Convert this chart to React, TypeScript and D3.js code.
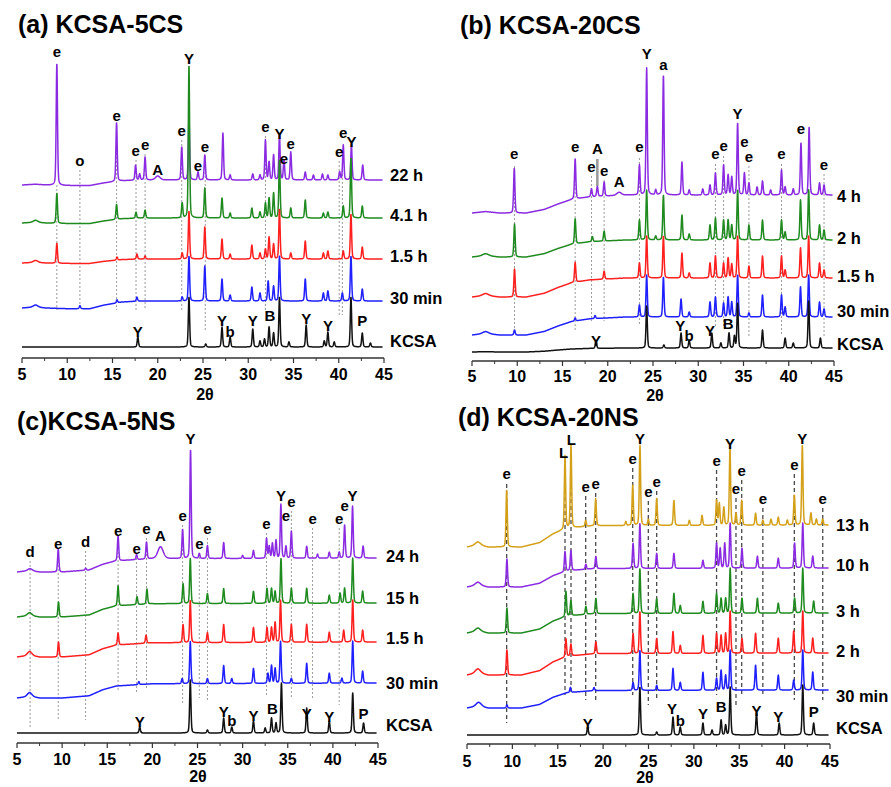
import React from 'react';
import * as d3 from 'd3';

type Pk = [number, number, number?];
type Lbl = [string, number, number];
type Dash = [number, number, number];

const majorTicks = [5, 10, 15, 20, 25, 30, 35, 40, 45];
const minorTicks = [7.5, 12.5, 17.5, 22.5, 27.5, 32.5, 37.5, 42.5];

// ---------- (a) KCSA-5CS ----------
const namesA = ['22 h', '4.1 h', '1.5 h', '30 min', 'KCSA'];
const colorsA = ['#8a2be2', '#1f8a1f', '#ff1f1f', '#1f1fff', '#111111'];
const offsetsA = [170, 132, 91, 49, 3];
const humpsA = [5, 5, 4, 7, 0];
const nameLevelsA = [173, 133, 92, 50, 7];
const humpShapeA: [number, number][] = [[5, 1], [6.5, 0.85], [7.6, 1], [10, 1.1], [12.5, 1.1], [14, 0.6], [16, 0.15], [18, 0], [45, 0]];
const peaksA: Pk[][] = [
  [[8.85, 122], [15.45, 59], [17.55, 15], [18.0, 6], [18.6, 23], [20.0, 4, 0.3], [22.65, 33], [23.45, 60], [24.45, 8], [25.2, 25], [27.2, 47], [28.0, 5], [30.5, 6], [31.3, 5], [31.9, 40], [32.3, 18], [32.8, 25], [33.45, 45], [33.95, 20], [34.7, 28], [36.3, 8], [37.2, 5], [38.2, 6], [38.8, 5], [40.1, 8], [40.5, 35], [41.4, 35], [42.65, 15]],
  [[6.5, 2, 0.3], [8.85, 30], [15.45, 15], [17.6, 6], [18.6, 8], [22.7, 15], [23.45, 153], [25.2, 30], [27.1, 20], [28.0, 5], [30.4, 10], [31.3, 6], [31.9, 15], [32.3, 20], [32.8, 25], [33.45, 58], [34.7, 10], [36.3, 18], [38.3, 5], [38.8, 6], [40.5, 12], [41.35, 60], [42.6, 12]],
  [[6.5, 2, 0.3], [8.85, 20], [15.5, 3], [17.7, 5], [18.6, 3], [22.7, 6], [23.45, 48], [25.2, 32], [27.1, 20], [28.0, 5], [30.4, 14], [31.3, 6], [31.9, 10], [32.3, 22], [32.8, 15], [33.45, 50], [34.7, 6], [36.3, 18], [38.3, 6], [38.8, 8], [40.5, 8], [41.35, 45], [42.6, 12]],
  [[6.5, 2, 0.3], [11.4, 3], [15.5, 3], [17.7, 4], [22.7, 4], [23.45, 45], [25.2, 35], [27.1, 22], [28.0, 6], [30.4, 14], [31.3, 8], [32.2, 20], [32.8, 15], [33.45, 45], [36.3, 22], [38.3, 8], [38.8, 10], [40.4, 8], [41.35, 45], [42.6, 12]],
  [[17.8, 10], [23.45, 50], [25.3, 3], [27.1, 20], [28.0, 10], [30.5, 18], [31.3, 6], [31.8, 8], [32.3, 20], [32.8, 14], [33.45, 50], [34.5, 5], [36.4, 22], [38.4, 6], [38.8, 15], [39.5, 5], [41.35, 50], [42.6, 14], [43.5, 4]],
];
const labelsA: Lbl[] = [
  ['e', 8.85, 297], ['o', 11.4, 188], ['e', 15.45, 233], ['e', 17.55, 198], ['e', 18.6, 204], ['A', 20.0, 179],
  ['e', 22.65, 218], ['Y', 23.45, 290], ['e', 24.45, 183], ['e', 25.2, 202], ['e', 31.9, 222], ['Y', 33.45, 215],
  ['e', 33.95, 190], ['e', 34.7, 205], ['e', 40.05, 197], ['e', 40.5, 216], ['Y', 41.4, 207],
  ['Y', 17.8, 17], ['Y', 27.1, 28], ['b', 28.0, 17], ['Y', 30.5, 28], ['B', 32.4, 33], ['Y', 36.4, 30], ['Y', 38.8, 23], ['P', 42.6, 28],
];
const dashesA: Dash[] = [
  [8.85, 165, 40], [11.4, 180, 40], [15.45, 225, 40], [17.6, 190, 40], [18.6, 196, 40], [22.65, 210, 40],
  [25.25, 194, 20], [31.9, 214, 40], [40.05, 189, 35], [40.4, 180, 35],
];

// ---------- (b) KCSA-20CS ----------
const namesB = ['4 h', '2 h', '1.5 h', '30 min', 'KCSA'];
const colorsB = ['#8a2be2', '#1f8a1f', '#ff1f1f', '#1f1fff', '#111111'];
const offsetsB = [161, 116, 78, 39, 8];
const humpsB = [18, 17, 19, 18, 4];
const nameLevelsB = [158, 116, 78, 43, 10];
const humpShapeB: [number, number][] = [[5, 1], [6.5, 0.92], [8, 1], [11, 1], [13, 0.8], [14.5, 0.5], [16, 0.25], [18, 0.1], [22, 0], [45, 0]];
const peaksB: Pk[][] = [
  [[9.67, 45], [16.4, 40], [18.2, 8], [18.85, 10], [19.6, 14], [21.25, 3, 0.3], [23.5, 30], [24.3, 127], [25.3, 5], [26.15, 120], [28.2, 33], [29.0, 5], [30.5, 6], [31.3, 10], [31.9, 22], [32.8, 30], [33.3, 20], [33.7, 18], [34.35, 72], [35.1, 22], [35.6, 12], [36.5, 8], [37.1, 14], [38.0, 5], [39.2, 25], [39.6, 8], [40.5, 6], [41.35, 52], [42.25, 68], [43.4, 12], [43.9, 10]],
  [[6.5, 2, 0.4], [9.7, 33], [16.4, 25], [18.3, 5], [19.6, 10], [23.5, 20], [24.3, 50], [25.3, 4], [26.15, 45], [28.2, 25], [29.0, 6], [31.3, 15], [31.9, 22], [32.8, 20], [33.3, 20], [33.7, 15], [34.35, 50], [35.6, 15], [37.1, 20], [39.2, 20], [39.6, 8], [41.3, 40], [42.2, 50], [43.4, 15], [43.9, 10]],
  [[6.5, 2, 0.4], [9.7, 28], [16.4, 20], [19.6, 8], [23.5, 15], [24.3, 42], [26.15, 42], [28.2, 25], [29.0, 5], [31.3, 15], [31.9, 22], [32.8, 15], [33.3, 20], [33.7, 14], [34.35, 42], [35.6, 12], [37.1, 22], [39.2, 22], [39.6, 8], [41.3, 30], [42.2, 42], [43.4, 15], [43.9, 8]],
  [[6.5, 2, 0.4], [9.7, 5], [16.4, 3], [18.6, 3], [23.5, 12], [24.3, 42], [26.15, 40], [28.1, 18], [29.0, 5], [31.3, 15], [31.9, 20], [32.8, 14], [33.3, 20], [33.7, 15], [34.35, 42], [35.6, 4], [37.1, 22], [39.2, 22], [39.6, 10], [41.3, 30], [42.2, 42], [43.4, 15], [43.9, 8]],
  [[18.7, 8], [24.3, 42], [26.2, 3], [28.1, 15], [29.0, 8], [31.5, 15], [32.5, 5], [33.4, 15], [34.0, 12], [34.35, 45], [37.1, 18], [39.6, 10], [40.5, 5], [42.2, 47], [43.5, 10]],
];
const labelsB: Lbl[] = [
  ['e', 9.67, 201], ['e', 16.4, 208], ['A', 18.85, 206], ['e', 18.2, 188], ['e', 19.6, 184], ['A', 21.25, 173],
  ['e', 23.5, 208], ['Y', 24.3, 301], ['a', 26.15, 290], ['e', 31.9, 201], ['e', 32.8, 209], ['Y', 34.35, 241],
  ['e', 35.1, 213], ['e', 35.6, 198], ['e', 39.2, 201], ['e', 41.35, 226], ['e', 43.9, 190],
  ['Y', 18.7, 14], ['Y', 28.0, 29], ['b', 29.0, 19], ['Y', 31.3, 24], ['B', 33.3, 31],
];
const dashesB: Dash[] = [
  [9.7, 190, 25], [16.4, 196, 25], [18.2, 180, 35], [19.6, 176, 35], [23.5, 198, 30], [31.9, 192, 30],
  [32.8, 200, 30], [35.6, 190, 20], [39.2, 192, 20], [43.9, 182, 20],
];
const barsB: Dash[] = [[18.85, 197, 170]];

// ---------- (c) KCSA-5NS ----------
const namesC = ['24 h', '15 h', '1.5 h', '30 min', 'KCSA'];
const colorsC = ['#8a2be2', '#1f8a1f', '#ff1f1f', '#1f1fff', '#111111'];
const offsetsC = [180, 135, 96, 55, 5];
const humpsC = [14, 14, 15, 15, 0];
const nameLevelsC = [180, 138, 98, 53, 11];
const humpShapeC: [number, number][] = [[5, 1], [6.4, 0.9], [7.5, 1], [10, 1], [13, 0.85], [14.5, 0.45], [16, 0.2], [20, 0.05], [45, 0]];
const peaksC: Pk[][] = [
  [[6.45, 2, 0.3], [9.57, 23], [12.6, 2], [16.2, 25], [18.25, 5], [19.35, 17], [20.9, 12, 0.35], [23.35, 29], [24.23, 109], [25.2, 5], [26.1, 13], [27.9, 16], [30.0, 3], [31.2, 8], [32.65, 20], [32.95, 12], [33.3, 15], [33.7, 18], [34.24, 54], [34.8, 12], [35.4, 27], [37.1, 12], [38.3, 4], [39.6, 6], [40.7, 6], [41.3, 33], [42.18, 52], [43.35, 12]],
  [[6.4, 3, 0.3], [9.6, 15], [16.2, 20], [18.3, 8], [19.4, 15], [23.4, 20], [24.2, 45], [26.1, 10], [27.9, 15], [31.2, 12], [32.7, 15], [33.2, 15], [33.6, 12], [34.25, 45], [35.4, 15], [37.1, 15], [39.6, 8], [40.8, 10], [41.3, 15], [42.2, 45], [43.3, 12]],
  [[6.4, 4, 0.3], [9.6, 15], [16.2, 12], [19.3, 8], [23.4, 18], [24.2, 42], [26.1, 10], [27.9, 18], [31.2, 15], [32.7, 15], [33.2, 15], [33.6, 20], [34.2, 42], [35.4, 18], [37.1, 18], [39.6, 10], [41.2, 12], [42.2, 42], [43.3, 12]],
  [[6.4, 4, 0.3], [18.5, 3], [23.3, 5], [24.2, 42], [26.1, 5], [27.9, 18], [28.8, 5], [31.2, 15], [32.8, 10], [33.2, 18], [33.6, 15], [34.2, 42], [35.4, 5], [37.1, 20], [39.6, 10], [41.0, 5], [42.2, 42], [43.3, 12]],
  [[18.6, 6], [24.2, 53], [26.1, 3], [27.9, 15], [28.8, 6], [31.2, 12], [32.5, 5], [33.2, 15], [33.7, 10], [34.3, 50], [37.1, 25], [39.6, 12], [42.2, 40], [43.4, 10]],
];
const labelsC: Lbl[] = [
  ['d', 6.45, 185], ['e', 9.57, 193], ['d', 12.6, 195], ['e', 16.2, 206], ['e', 18.25, 188], ['e', 19.35, 208],
  ['A', 20.9, 201], ['e', 23.35, 221], ['Y', 24.23, 298], ['e', 25.2, 193], ['e', 26.1, 208], ['e', 32.65, 213],
  ['Y', 34.24, 241], ['e', 34.8, 221], ['e', 35.4, 235], ['e', 37.75, 218], ['e', 40.7, 218], ['e', 41.3, 231], ['Y', 42.18, 241],
  ['Y', 18.6, 15], ['Y', 27.9, 25], ['b', 28.8, 16], ['Y', 31.2, 21], ['B', 33.3, 28], ['Y', 37.1, 23], ['Y', 39.6, 20], ['P', 43.4, 23],
];
const dashesC: Dash[] = [
  [6.45, 177, 10], [9.57, 185, 18], [12.6, 187, 18], [16.2, 198, 48], [18.25, 180, 45], [19.35, 200, 48],
  [23.35, 213, 33], [25.2, 185, 40], [26.1, 200, 38], [32.65, 205, 41], [35.4, 227, 41], [37.75, 210, 38], [40.7, 210, 33],
];

// ---------- (d) KCSA-20NS ----------
const namesD = ['13 h', '10 h', '3 h', '2 h', '30 min', 'KCSA'];
const colorsD = ['#d4a017', '#8a2be2', '#1f8a1f', '#ff1f1f', '#1f1fff', '#111111'];
const offsetsD = [215, 172, 127, 87, 50, 5];
const humpsD = [22, 19, 20, 22, 18, 0];
const nameLevelsD = [213, 173, 127, 87, 42, 10];
const humpShapeD: [number, number][] = [[5, 1], [6.2, 0.9], [7.3, 1], [11, 1], [13, 0.8], [14.5, 0.4], [16, 0.15], [19, 0.03], [45, 0]];
const peaksD: Pk[][] = [
  [[6.2, 3, 0.35], [9.37, 57], [15.8, 73], [16.46, 83], [18.08, 6], [19.18, 27], [22.5, 4], [23.26, 40], [24.06, 80], [24.98, 6], [25.9, 27], [27.8, 25], [29.5, 5], [30.9, 10], [32.5, 25], [32.8, 22], [33.3, 18], [33.98, 77], [34.64, 12], [35.27, 25], [36.8, 12], [37.6, 5], [38.5, 6], [39.3, 8], [40.3, 5], [41.07, 30], [41.95, 80], [42.9, 12], [43.5, 6], [44.2, 6]],
  [[6.2, 3, 0.35], [9.4, 28], [15.8, 20], [16.45, 20], [18.1, 5], [19.2, 12], [23.3, 25], [24.05, 45], [25.9, 15], [27.8, 15], [31.0, 8], [32.5, 25], [32.9, 20], [33.4, 25], [34.0, 45], [35.3, 20], [37.0, 12], [39.3, 10], [41.1, 25], [42.0, 45], [43.1, 12]],
  [[6.2, 3, 0.35], [9.4, 25], [15.9, 25], [16.45, 15], [18.1, 8], [19.2, 15], [23.3, 20], [24.05, 45], [25.9, 15], [27.8, 20], [28.5, 8], [31.0, 12], [32.5, 20], [33.0, 15], [33.5, 15], [34.0, 45], [35.3, 15], [37.0, 15], [39.3, 10], [41.1, 15], [42.0, 45], [43.2, 12]],
  [[6.2, 4, 0.35], [9.4, 25], [15.9, 18], [16.45, 12], [19.2, 12], [23.3, 20], [24.05, 42], [25.9, 15], [27.7, 22], [28.5, 8], [31.0, 18], [32.5, 20], [33.0, 18], [33.5, 20], [34.0, 42], [35.3, 15], [36.8, 20], [39.3, 15], [41.0, 22], [42.0, 42], [43.1, 15]],
  [[6.3, 4, 0.35], [9.4, 3], [16.4, 5], [19.0, 3], [23.3, 8], [24.05, 40], [25.9, 5], [27.7, 22], [28.5, 8], [31.0, 18], [32.5, 12], [33.0, 20], [33.5, 15], [34.0, 40], [36.8, 25], [39.3, 15], [41.0, 10], [42.0, 40], [43.1, 18]],
  [[18.3, 8], [24.05, 48], [25.9, 3], [27.7, 18], [28.5, 8], [31.0, 12], [32.0, 5], [33.0, 15], [33.5, 10], [34.0, 48], [36.9, 22], [39.4, 12], [42.0, 50], [43.2, 12]],
];
const labelsD: Lbl[] = [
  ['e', 9.37, 265], ['L', 15.65, 286], ['L', 16.5, 299], ['e', 18.08, 252], ['e', 19.18, 255], ['e', 23.26, 280],
  ['Y', 24.06, 300], ['e', 24.98, 247], ['e', 25.9, 257], ['e', 32.5, 278], ['Y', 33.98, 295], ['e', 34.64, 250],
  ['e', 35.27, 268], ['e', 37.6, 240], ['e', 41.07, 274], ['Y', 41.95, 300], ['e', 44.2, 240],
  ['Y', 18.3, 15], ['Y', 27.6, 30], ['b', 28.5, 18], ['Y', 31.0, 25], ['B', 33.0, 32], ['Y', 36.9, 28], ['Y', 39.3, 22], ['P', 43.2, 27],
];
const dashesD: Dash[] = [
  [9.37, 256, 17], [15.8, 278, 45], [16.46, 290, 45], [18.08, 244, 40], [19.18, 247, 38], [23.26, 272, 45],
  [24.98, 239, 35], [25.9, 249, 40], [32.5, 270, 45], [34.64, 242, 35], [35.27, 260, 45], [37.6, 232, 45],
  [41.07, 266, 40], [44.2, 232, 40],
];

const FONT = '"Liberation Sans", Arial, Helvetica, sans-serif';

interface Layout {
  x0: number; x1: number; axisY: number; base: number;
  titleX: number; titleY: number; nameX: number;
  xlabX: number; xlabY: number; tickY: number; dark: boolean;
}

interface PanelProps {
  title: string; names: string[]; colors: string[]; offsets: number[]; humps: number[];
  nameLevels: number[]; humpShape: [number, number][]; peaks: Pk[][];
  labels: Lbl[]; dashes: Dash[]; bars?: Dash[]; layout: Layout;
}

const grid = d3.range(5, 44.85, 0.02);

function profile(t: number, pk: Pk[]) {
  let s = 0;
  for (const [p, h, w0] of pk) {
    const w = w0 ?? 0.085;
    const u = (t - p) / w;
    if (Math.abs(u) > 40) continue;
    s += h * (0.3 / (1 + u * u) + 0.7 * Math.exp(-0.693 * u * u));
  }
  return s;
}

const Panel: React.FC<PanelProps> = ({ title, names, colors, offsets, humps, nameLevels, humpShape, peaks, labels, dashes, bars, layout }) => {
  const x = d3.scaleLinear().domain([5, 45]).range([layout.x0, layout.x1]);
  const y = d3.scaleLinear().domain([0, 100]).range([layout.base, layout.base - 100]);
  const hump = d3.scaleLinear().domain(humpShape.map(d => d[0])).range(humpShape.map(d => d[1])).clamp(true);
  const line = d3.line<[number, number]>().x(d => x(d[0])).y(d => y(d[1]));
  const dashColor = layout.dark ? '#4a4a4a' : '#9a9a9a';
  return (
    <g>
      <text x={layout.titleX} y={layout.titleY} fontSize={25} fontWeight="bold" fontFamily={FONT}>{title}</text>
      {dashes.map(([t, top, bot], i) => (
        <line key={'d' + i} x1={x(t)} x2={x(t)} y1={y(top)} y2={y(bot)} stroke={dashColor}
          strokeWidth={layout.dark ? 1.3 : 1} strokeDasharray={layout.dark ? '4,3' : '2,2'} />
      ))}
      {(bars || []).map(([t, top, bot], i) => (
        <line key={'b' + i} x1={x(t)} x2={x(t)} y1={y(top)} y2={y(bot)} stroke="#999" strokeWidth={2.5} />
      ))}
      {names.map((n, i) => {
        const pts: [number, number][] = grid.map(t => [t, offsets[i] - humps[i] * hump(t) + profile(t, peaks[i])]);
        return <path key={n} d={line(pts) || ''} fill="none" stroke={colors[i]} strokeWidth={1.5} strokeLinejoin="round" />;
      })}
      {labels.map(([s, t, v], i) => (
        <text key={'l' + i} x={x(t)} y={y(v)} textAnchor="middle" dominantBaseline="middle"
          fontSize={15} fontWeight="bold" fontFamily={FONT}>{s}</text>
      ))}
      {names.map((n, i) => (
        <text key={'n' + n} x={layout.nameX} y={y(nameLevels[i])} dominantBaseline="middle"
          fontSize={16.5} fontWeight="bold" fontFamily={FONT}>{n}</text>
      ))}
      <line x1={x(5)} x2={x(45)} y1={layout.axisY} y2={layout.axisY} stroke="#333" strokeWidth={1.3} />
      {majorTicks.map(t => (
        <g key={'t' + t}>
          <line x1={x(t)} x2={x(t)} y1={layout.axisY} y2={layout.axisY + 5} stroke="#333" strokeWidth={1.2} />
          <text x={x(t)} y={layout.tickY} textAnchor="middle" fontSize={16} fontWeight="bold" fontFamily={FONT}>{t}</text>
        </g>
      ))}
      {minorTicks.map(t => (
        <line key={'m' + t} x1={x(t)} x2={x(t)} y1={layout.axisY} y2={layout.axisY + 3} stroke="#333" strokeWidth={1} />
      ))}
      <text x={layout.xlabX} y={layout.xlabY} textAnchor="middle" fontSize={16} fontWeight="bold" fontFamily={FONT}>2θ</text>
    </g>
  );
};

export default function App() {
  return (
    <svg width={891} height={787} viewBox="0 0 891 787"
      style={{ display: 'block', position: 'absolute', left: 0, top: 0, background: '#fff' }}>
      <rect width={891} height={787} fill="#fff" />
      <Panel title="(a) KCSA-5CS" names={namesA} colors={colorsA} offsets={offsetsA} humps={humpsA}
        nameLevels={nameLevelsA} humpShape={humpShapeA} peaks={peaksA} labels={labelsA} dashes={dashesA}
        layout={{ x0: 22, x1: 384, axisY: 358, base: 350, titleX: 18, titleY: 33, nameX: 390, xlabX: 205, xlabY: 400, tickY: 380, dark: false }} />
      <Panel title="(b) KCSA-20CS" names={namesB} colors={colorsB} offsets={offsetsB} humps={humpsB}
        nameLevels={nameLevelsB} humpShape={humpShapeB} peaks={peaksB} labels={labelsB} dashes={dashesB} bars={barsB}
        layout={{ x0: 472, x1: 834, axisY: 361, base: 356, titleX: 460, titleY: 34, nameX: 837, xlabX: 655, xlabY: 401, tickY: 382, dark: false }} />
      <Panel title="(c)KCSA-5NS" names={namesC} colors={colorsC} offsets={offsetsC} humps={humpsC}
        nameLevels={nameLevelsC} humpShape={humpShapeC} peaks={peaksC} labels={labelsC} dashes={dashesC}
        layout={{ x0: 17, x1: 378, axisY: 743, base: 738, titleX: 17, titleY: 430, nameX: 386, xlabX: 198, xlabY: 782, tickY: 765, dark: false }} />
      <Panel title="(d) KCSA-20NS" names={namesD} colors={colorsD} offsets={offsetsD} humps={humpsD}
        nameLevels={nameLevelsD} humpShape={humpShapeD} peaks={peaksD} labels={labelsD} dashes={dashesD}
        layout={{ x0: 467, x1: 830, axisY: 744, base: 740, titleX: 458, titleY: 426, nameX: 836, xlabX: 645, xlabY: 783, tickY: 767, dark: true }} />
    </svg>
  );
}
